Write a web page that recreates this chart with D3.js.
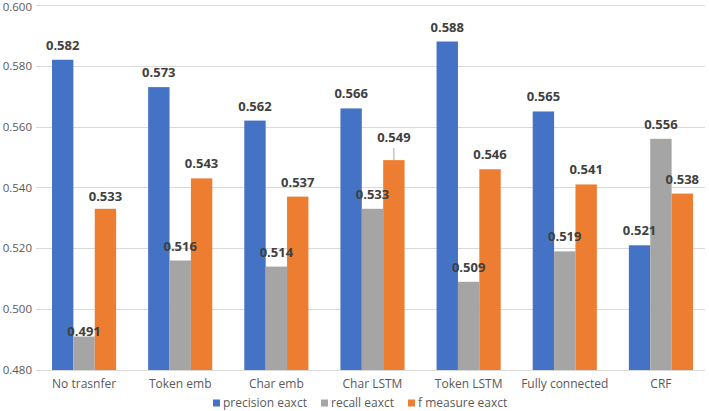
<!DOCTYPE html>
<html>
<head>
<meta charset="utf-8">
<script src="https://cdn.jsdelivr.net/npm/d3@7"></script>
<style>
  html, body { margin: 0; padding: 0; background: #ffffff; }
  svg { display: block; font-family: "Open Sans", "Liberation Sans", sans-serif; }
</style>
</head>
<body>
<svg id="chart" width="709" height="411"></svg>
<script>
// ---- data ----
const categories = ["No trasnfer", "Token emb", "Char emb", "Char LSTM", "Token LSTM", "Fully connected", "CRF"];
const seriesNames = ["precision eaxct", "recall eaxct", "f measure eaxct"];
const precision = [0.582, 0.573, 0.562, 0.566, 0.588, 0.565, 0.521];
const recall    = [0.491, 0.516, 0.514, 0.533, 0.509, 0.519, 0.556];
const fmeasure  = [0.533, 0.543, 0.537, 0.549, 0.546, 0.541, 0.538];
const yTicks = [0.48, 0.50, 0.52, 0.54, 0.56, 0.58, 0.60];

const colors = ["#4472C4", "#A5A5A5", "#ED7D31"];
const seriesValues = [precision, recall, fmeasure];

const svg = d3.select("#chart");
const margin = { left: 36, right: 0, top: 5, bottom: 41 };
const W = 709, H = 411;

const x0 = d3.scaleBand().domain(categories).range([margin.left, W - margin.right]).padding(0);
const x1 = d3.scaleBand().domain(seriesNames).range([16, x0.bandwidth() - 16]).padding(0);
const y = d3.scaleLinear().domain([0.48, 0.60]).range([H - margin.bottom, margin.top]);

// gridlines
svg.append("g").selectAll("line").data(yTicks).join("line")
  .attr("x1", margin.left).attr("x2", W - 4)
  .attr("y1", d => Math.round(y(d)) + 0.5).attr("y2", d => Math.round(y(d)) + 0.5)
  .attr("stroke", "#D9D9D9").attr("stroke-width", 1);

// y tick labels (top one nudged to stay inside the frame)
svg.append("g").selectAll("text").data(yTicks).join("text")
  .attr("x", 32).attr("y", d => Math.max(y(d), 7))
  .attr("dy", "0.35em")
  .attr("text-anchor", "end")
  .attr("font-size", 11.5).attr("fill", "#595959")
  .text(d => d3.format(".3f")(d));

// bars
const rows = [];
categories.forEach((c, i) => {
  seriesNames.forEach((s, j) => rows.push({ cat: c, ser: s, si: j, ci: i, v: seriesValues[j][i] }));
});

svg.append("g").selectAll("rect").data(rows).join("rect")
  .attr("x", d => x0(d.cat) + x1(d.ser))
  .attr("width", x1.bandwidth())
  .attr("y", d => y(d.v))
  .attr("height", d => y(0.48) - y(d.v))
  .attr("fill", d => colors[d.si]);

// label adjustments (extra upward shift in px) for manually placed labels
function labelShift(d) {
  if (d.cat === "No trasnfer" && d.si === 1) return -9;
  if (d.cat === "No trasnfer" && d.si === 2) return -2;
  if (d.cat === "Char LSTM" && d.si === 2) return 8;
  return 0;
}

// leader line
rows.filter(d => d.cat === "Char LSTM" && d.si === 2).forEach(d => {
  const cx = x0(d.cat) + x1(d.ser) + x1.bandwidth() / 2;
  svg.append("line")
    .attr("x1", cx).attr("x2", cx)
    .attr("y1", y(d.v) - 12).attr("y2", y(d.v))
    .attr("stroke", "#A6A6A6").attr("stroke-width", 1);
});

svg.append("g").selectAll("text").data(rows).join("text")
  .attr("x", d => x0(d.cat) + x1(d.ser) + x1.bandwidth() / 2)
  .attr("y", d => y(d.v) - 10 - labelShift(d))
  .attr("text-anchor", "middle")
  .attr("font-size", 13).attr("font-weight", "bold").attr("fill", "#404040")
  .text(d => d3.format(".3f")(d.v));

// category labels
svg.append("g").selectAll("text").data(categories).join("text")
  .attr("x", d => x0(d) + x0.bandwidth() / 2)
  .attr("y", y(0.48) + 18)
  .attr("text-anchor", "middle")
  .attr("font-size", 12).attr("fill", "#595959")
  .text(d => d);

// legend
const legendX = [213, 321, 408];
const lg = svg.append("g").selectAll("g").data(seriesNames).join("g")
  .attr("transform", (d, i) => `translate(${legendX[i]},403)`);
lg.append("rect").attr("x", 0).attr("y", -3.5).attr("width", 7).attr("height", 7)
  .attr("fill", (d, i) => colors[i]);
lg.append("text").attr("x", 10).attr("y", 0).attr("dy", "0.35em")
  .attr("font-size", 12).attr("fill", "#595959")
  .text(d => d);
</script>
</body>
</html>
